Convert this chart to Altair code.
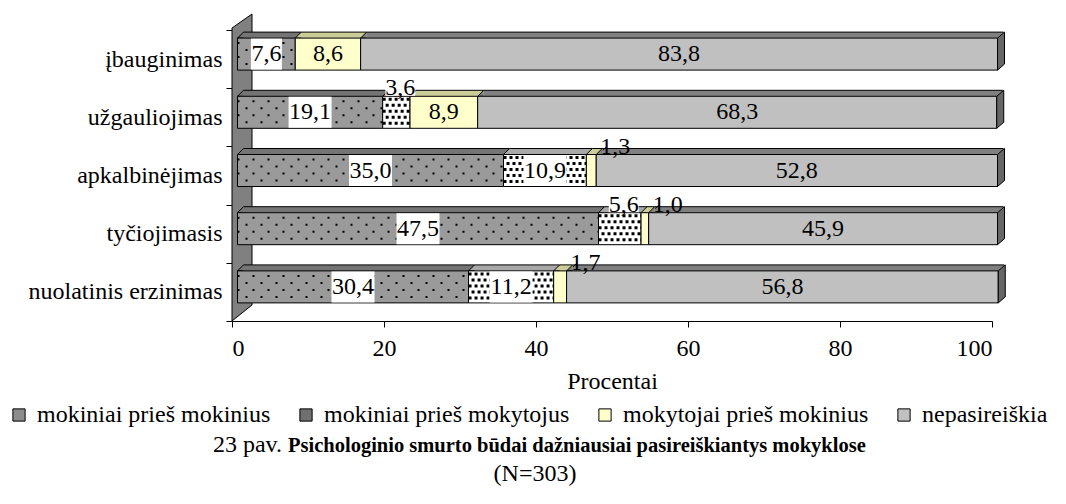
import altair as alt
import pandas as pd

# ---------------- data ----------------
categories = ["įbauginimas", "užgauliojimas", "apkalbinėjimas", "tyčiojimasis", "nuolatinis erzinimas"]
series = ["mokiniai prieš mokinius", "mokiniai prieš mokytojus", "mokytojai prieš mokinius", "nepasireiškia"]
s_mok_mok = [7.6, 19.1, 35.0, 47.5, 30.4]
s_mok_teach = [0.0, 3.6, 10.9, 5.6, 11.2]
s_teach_mok = [8.6, 8.9, 1.3, 1.0, 1.7]
s_none = [83.8, 68.3, 52.8, 45.9, 56.8]
x_ticks = [0, 20, 40, 60, 80, 100]
axis_title = "Procentai"
caption_prefix = "23 pav."
caption_bold = "Psichologinio smurto būdai dažniausiai pasireiškiantys mokyklose"
caption_n = "(N=303)"

# ---------------- styles ----------------
FONT = "Liberation Serif"
FS = 24
legend_fill = ["#8c8c8c", "#707070", "#ffffcc", "#c0c0c0"]
front_fill = ["#9a9a9a", "#ffffff", "#ffffcc", "#c0c0c0"]
top_fill = ["#747474", "#a8a8a8", "#cccc99", "#808080"]

values = [s_mok_mok, s_mok_teach, s_teach_mok, s_none]
rows = []
for ci, cat in enumerate(categories):
    cum = 0.0
    for si, name in enumerate(series):
        v = values[si][ci]
        if v > 0:
            rows.append({
                "cat": cat, "series": name, "si": si, "v": v,
                "start": cum, "end": cum + v, "mid": cum + v / 2,
                "label": f"{v:.1f}".replace(".", ","),
            })
        cum += v
df = pd.DataFrame(rows)
df["top"] = df["si"].map(lambda i: top_fill[i])
df["front"] = df["si"].map(lambda i: front_fill[i])
df["inside"] = df["v"] >= 6
df["nch"] = df["label"].str.len()

xscale = alt.Scale(domain=[0, 100], nice=False, zero=False)
xaxis = alt.Axis(values=x_ticks, title=axis_title, grid=False, tickSize=6,
                 labelPadding=9, titlePadding=9, format="d")
yaxis = alt.Axis(title=None, tickBand="extent", tickSize=6, labelPadding=4, labelLimit=400)
yscale = alt.Scale(paddingInner=0, paddingOuter=0)


def X(field):
    return alt.X(f"{field}:Q", scale=xscale, axis=xaxis)


Y = alt.Y("cat:N", sort=categories, scale=yscale, axis=yaxis)

base = alt.Chart(df)
one = pd.DataFrame({"k": [0]})

DX = 5.5  # depth shift of the bar fronts

wall = alt.Chart(one).mark_point(
    shape="M0,-2 L20,-16 L20,275 L0,291 Z", size=4, filled=True, fill="#808080",
    stroke="black", strokeWidth=1, opacity=1
).encode(x=alt.value(0), y=alt.value(0))

top_rect = base.mark_bar(height=6, yOffset=-24, xOffset=DX + 6, x2Offset=DX + 6).encode(
    x=X("start"), x2="end", y=Y, fill=alt.Fill("top:N", scale=None))

top_edge = base.mark_rule(yOffset=-27, xOffset=DX + 6, x2Offset=DX + 6, color="black", strokeWidth=1).encode(
    x=X("start"), x2="end", y=Y)

top_tri = base.mark_point(
    shape="M11.5,-21 L5.5,-21 L11.5,-27", size=4, filled=True, opacity=1,
    stroke="black", strokeWidth=1
).encode(x=X("start"), y=Y, fill=alt.Fill("top:N", scale=None))

front_legend = base.mark_bar(height=32, yOffset=-5, xOffset=DX, x2Offset=DX).encode(
    x=X("start"), x2="end", y=Y,
    color=alt.Color("series:N", scale=alt.Scale(domain=series, range=legend_fill),
                    legend=alt.Legend(title=None, orient="none", legendX=-225, legendY=373,
                                      direction="horizontal", symbolType="square", symbolSize=150,
                                      symbolStrokeColor="black", symbolStrokeWidth=1,
                                      labelFont=FONT, labelFontSize=FS, labelColor="black",
                                      columnPadding=23, labelOffset=6, labelLimit=400)))

front = base.mark_bar(height=32, yOffset=-5, xOffset=DX, x2Offset=DX, stroke="black", strokeWidth=1).encode(
    x=X("start"), x2="end", y=Y, fill=alt.Fill("front:N", scale=None))

patterns = []
for k, yo in enumerate([-18, -12, -6, 0, 6]):
    patterns.append(base.transform_filter(alt.datum.si == 1).mark_rule(
        yOffset=yo, xOffset=DX, x2Offset=DX, strokeWidth=3, strokeDash=[3, 3],
        strokeDashOffset=3 * (k % 2), color="black").encode(x=X("start"), x2="end", y=Y))
for k, yo in enumerate([-16, -9, -2, 5]):
    patterns.append(base.transform_filter(alt.datum.si == 0).mark_rule(
        yOffset=yo, xOffset=DX, x2Offset=DX, strokeWidth=2, strokeDash=[2, 13],
        strokeDashOffset=7 * (k % 2), color="black").encode(x=X("start"), x2="end", y=Y))

end_cap = base.transform_filter(alt.datum.si == 3).mark_point(
    shape="M5.5,-21 L12.5,-27 L12.5,5 L5.5,11 Z", size=4, filled=True, opacity=1,
    fill="#666666", stroke="black", strokeWidth=1).encode(x=X("end"), y=Y)

box3 = base.transform_filter((alt.datum.si <= 1) & alt.datum.inside & (alt.datum.nch == 3)).mark_point(
    shape="M-10,-20.5 H21 V10.5 H-10 Z", size=4, filled=True, opacity=1, fill="white", strokeWidth=0
).encode(x=X("mid"), y=Y)
box4 = base.transform_filter((alt.datum.si <= 1) & alt.datum.inside & (alt.datum.nch == 4)).mark_point(
    shape="M-16,-20.5 H27 V10.5 H-16 Z", size=4, filled=True, opacity=1, fill="white", strokeWidth=0
).encode(x=X("mid"), y=Y)
box_above = base.transform_filter((alt.datum.si == 1) & ~alt.datum.inside).mark_point(
    shape="M-5.5,-39 H24.5 V-21.5 H-5.5 Z", size=4, filled=True, opacity=1, fill="white", strokeWidth=0
).encode(x=X("mid"), y=Y)

txt_in = base.transform_filter(alt.datum.inside).mark_text(
    dx=DX, dy=-5, font=FONT, fontSize=FS, color="black").encode(x=X("mid"), y=Y, text="label:N")
txt_above = base.transform_filter((alt.datum.si == 1) & ~alt.datum.inside).mark_text(
    dx=DX + 4, dy=-29, font=FONT, fontSize=FS, color="black").encode(x=X("mid"), y=Y, text="label:N")
leader = base.transform_filter((alt.datum.si == 2) & ~alt.datum.inside).mark_point(
    shape="M12,-25 L16,-29", size=4, filled=False, opacity=1, stroke="black", strokeWidth=1
).encode(x=X("end"), y=Y)
txt_lead = base.transform_filter((alt.datum.si == 2) & ~alt.datum.inside).mark_text(
    dx=DX + 19, dy=-29, font=FONT, fontSize=FS, color="black").encode(x=X("end"), y=Y, text="label:N")

cap1 = alt.Chart(one).mark_text(text=caption_prefix, align="right", baseline="middle",
                                font=FONT, fontSize=FS, color="black").encode(x=alt.value(50), y=alt.value(415))
cap2 = alt.Chart(one).mark_text(text=caption_bold, align="left", baseline="middle", fontWeight="bold",
                                font=FONT, fontSize=20.5, color="black").encode(x=alt.value(56), y=alt.value(416))
cap3 = alt.Chart(one).mark_text(text=caption_n, align="center", baseline="middle",
                                font=FONT, fontSize=FS, color="black").encode(x=alt.value(303), y=alt.value(444))

chart = alt.layer(
    wall, top_rect, top_tri, top_edge, front_legend, front, *patterns, end_cap,
    box3, box4, box_above, txt_in, txt_above, leader, txt_lead, cap1, cap2, cap3
).properties(
    width=760, height=291, autosize="none",
    padding={"left": 224, "top": 22, "right": 66, "bottom": 175},
).configure_view(stroke=None).configure_axis(
    labelFont=FONT, titleFont=FONT, labelFontSize=FS, titleFontSize=FS,
    labelColor="black", titleColor="black", titleFontWeight="normal",
    domainColor="black", tickColor="black",
).configure_legend(labelFont=FONT).configure_text(font=FONT)

chart.save("out.html", embed_options={"renderer": "svg", "actions": False})
